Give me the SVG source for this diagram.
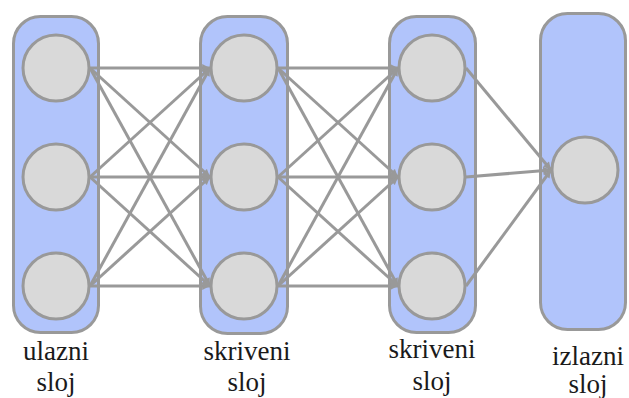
<svg xmlns="http://www.w3.org/2000/svg" width="629" height="398" viewBox="0 0 629 398">
<defs>
<marker id="arr" viewBox="0 0 10 10" refX="10" refY="5" markerWidth="3" markerHeight="2.6" orient="auto" markerUnits="strokeWidth">
<path d="M0,0 L10,5 L0,10 z" fill="#999999"/>
</marker>
<style>
.layer{fill:#b1c4fb;stroke:#999999;stroke-width:3}
.neuron{fill:#d9d9d9;stroke:#999999;stroke-width:3}
.edge{stroke:#999999;stroke-width:3;fill:none;marker-end:url(#arr)}
.lbl{font-family:'Liberation Serif','Times New Roman',Times,'Nimbus Roman','FreeSerif','DejaVu Serif','Noto Serif',serif;font-size:27px;fill:#1a1a1a;text-anchor:middle}
</style>
</defs>
<rect width="629" height="398" fill="#ffffff"/>
<g id="layer-input">
<rect class="layer" x="13.5" y="16.5" width="85" height="316" rx="27"/>
<circle class="neuron" cx="56" cy="68" r="33"/>
<circle class="neuron" cx="56" cy="177" r="33"/>
<circle class="neuron" cx="56" cy="286" r="33"/>
<text class="lbl" x="56" y="360">ulazni</text>
<text class="lbl" x="56" y="391">sloj</text>
</g>
<g id="layer-hidden1">
<rect class="layer" x="200.5" y="16.5" width="87" height="317" rx="27"/>
<circle class="neuron" cx="244" cy="68" r="33"/>
<circle class="neuron" cx="244" cy="177" r="33"/>
<circle class="neuron" cx="244" cy="286" r="33"/>
<text class="lbl" x="247" y="360">skriveni</text>
<text class="lbl" x="247" y="391">sloj</text>
</g>
<g id="layer-hidden2">
<rect class="layer" x="389.5" y="16.5" width="86" height="316" rx="27"/>
<circle class="neuron" cx="432" cy="68" r="33"/>
<circle class="neuron" cx="432" cy="177" r="33"/>
<circle class="neuron" cx="432" cy="286" r="33"/>
<text class="lbl" x="432" y="358">skriveni</text>
<text class="lbl" x="432" y="390">sloj</text>
</g>
<g id="layer-output">
<rect class="layer" x="540.5" y="13.5" width="85" height="316" rx="27"/>
<circle class="neuron" cx="585" cy="170" r="33"/>
<text class="lbl" x="588" y="365">izlazni</text>
<text class="lbl" x="588" y="393">sloj</text>
</g>
<g id="connectors">
<line class="edge" x1="90" y1="68" x2="210" y2="68"/>
<line class="edge" x1="90" y1="68" x2="210" y2="177"/>
<line class="edge" x1="90" y1="68" x2="210" y2="286"/>
<line class="edge" x1="90" y1="177" x2="210" y2="68"/>
<line class="edge" x1="90" y1="177" x2="210" y2="177"/>
<line class="edge" x1="90" y1="177" x2="210" y2="286"/>
<line class="edge" x1="90" y1="286" x2="210" y2="68"/>
<line class="edge" x1="90" y1="286" x2="210" y2="177"/>
<line class="edge" x1="90" y1="286" x2="210" y2="286"/>
<line class="edge" x1="278" y1="68" x2="398" y2="68"/>
<line class="edge" x1="278" y1="68" x2="398" y2="177"/>
<line class="edge" x1="278" y1="68" x2="398" y2="286"/>
<line class="edge" x1="278" y1="177" x2="398" y2="68"/>
<line class="edge" x1="278" y1="177" x2="398" y2="177"/>
<line class="edge" x1="278" y1="177" x2="398" y2="286"/>
<line class="edge" x1="278" y1="286" x2="398" y2="68"/>
<line class="edge" x1="278" y1="286" x2="398" y2="177"/>
<line class="edge" x1="278" y1="286" x2="398" y2="286"/>
<line class="edge" x1="466" y1="68" x2="551" y2="170"/>
<line class="edge" x1="466" y1="177" x2="551" y2="170"/>
<line class="edge" x1="466" y1="286" x2="551" y2="170"/>
</g>
</svg>
